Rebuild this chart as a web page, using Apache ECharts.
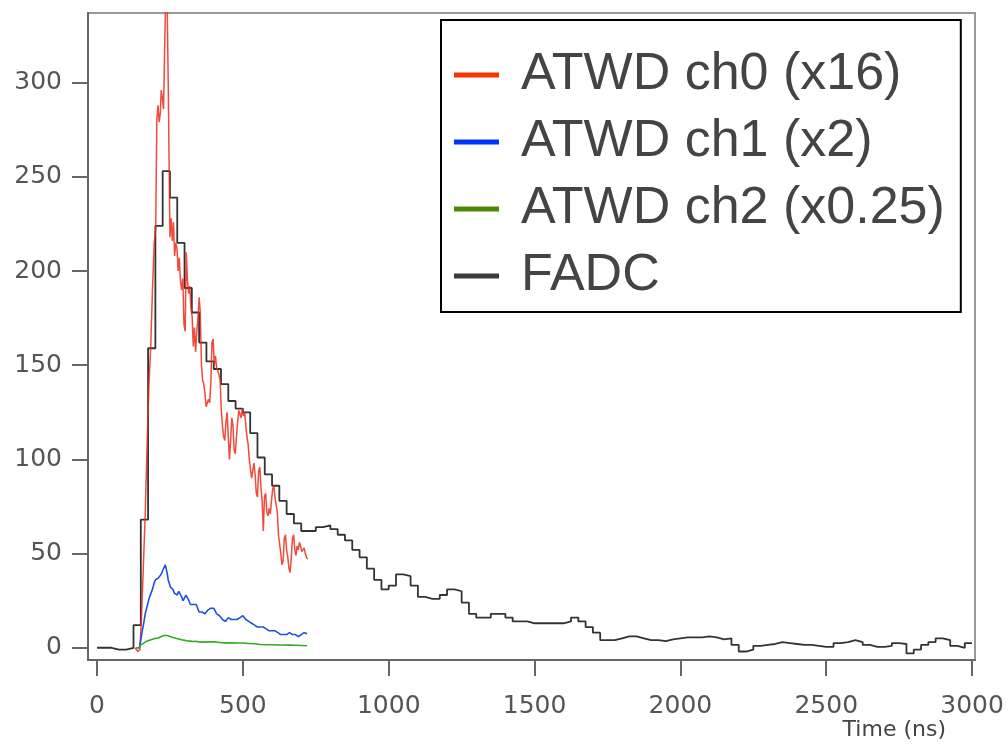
<!DOCTYPE html>
<html>
<head>
<meta charset="utf-8">
<script src="https://cdn.jsdelivr.net/npm/echarts@6/dist/echarts.min.js"></script>
<style>
  html, body { margin: 0; padding: 0; background: #fff; }
  #main { width: 1008px; height: 747px; }
</style>
</head>
<body>
<div id="main"></div>
<script>
// 坐标轴刻度
var xTicks = [0, 500, 1000, 1500, 2000, 2500, 3000];
var yTicks = [0, 50, 100, 150, 200, 250, 300];

// FADC: 25 ns per sample
var fadcStep = 25;
var fadcValues = [
  0, 0, -1, -1, 0, 12, 68, 159, 224, 253,
  239, 215, 191, 178, 162, 152, 148, 140, 131, 127,
  125, 114, 101, 92, 86, 78, 71, 66, 62, 62,
  64, 65, 63, 60, 57, 52, 48, 42, 36, 31,
  33, 39, 38, 33, 27, 26, 26, 28, 31, 30,
  24, 18, 16, 16, 18, 18, 16, 14, 14, 13,
  13, 13, 13, 13, 14, 16, 14, 11, 8, 4,
  4, 5, 6, 6, 5, 4, 4, 3.5, 4.5, 5,
  5.5, 5.5, 5.5, 6, 5.5, 4.5, 5, 1.5, -2, -1,
  1, 1.5, 2, 3, 2.5, 2, 1.5, 1.5, 1, 0.5,
  0.5, 2.5, 3, 4, 3, 1.5, 0.5, 0.5, 1, 2.5,
  2, -3, -1, 1.5, 3, 5, 4, 1, 0, 2.5, 2.5
];

// ATWD ch0 (x16)
var ch0Time = [130, 140, 147, 152, 158, 165, 172, 178, 184, 190, 196, 201, 205, 209, 213, 217, 220, 224, 228, 232,
  236, 240, 244, 247, 250, 254, 258, 262, 266, 270, 274, 278, 282, 286, 290, 294, 298, 302, 306, 310,
  314, 318, 322, 326, 330, 334, 338, 342, 346, 350, 354, 358, 362, 366, 370, 374, 378, 382, 386, 390,
  394, 398, 402, 406, 410, 414, 418, 422, 426, 430, 434, 438, 442, 446, 450, 454, 458, 462, 466, 470,
  474, 478, 482, 486, 490, 494, 498, 502, 506, 510, 514, 518, 522, 526, 530, 534, 538, 542, 546, 550,
  554, 558, 562, 566, 570, 574, 578, 582, 586, 590, 594, 598, 602, 606, 610, 614, 618, 622, 626, 630,
  634, 638, 642, 646, 650, 654, 658, 662, 666, 670, 674, 678, 682, 686, 690, 694, 698, 702, 706, 710,
  714, 718, 722];
var ch0Values = [0, -2, -1, 15, 40, 70, 110, 140, 160, 190, 215, 222, 280, 288, 279, 284, 296, 292, 286, 320,
  350, 348, 300, 258, 218, 228, 216, 226, 208, 215, 212, 200, 207, 195, 190, 196, 172, 168, 210, 195,
  188, 192, 180, 176, 160, 170, 157, 168, 175, 186, 178, 150, 142, 140, 135, 128, 127, 132, 130, 140,
  162, 164, 150, 155, 149, 148, 145, 142, 126, 118, 112, 110, 120, 125, 112, 100, 110, 122, 118, 105,
  103, 112, 120, 126, 124, 122, 127, 123, 125, 118, 112, 108, 100, 95, 90, 89, 98, 92, 82, 80,
  94, 96, 85, 78, 62, 80, 82, 72, 70, 74, 71, 78, 84, 86, 80, 76, 72, 60, 55, 50,
  44, 46, 58, 60, 52, 48, 42, 40, 48, 58, 60, 52, 49, 54, 52, 56, 54, 51, 50, 53,
  50, 48, 47];

// ATWD ch1 (x2)
var ch1Time = [135, 140, 145, 150, 155, 160, 165, 170, 175, 180, 185, 190, 195, 200, 205, 210, 215, 220, 225, 230,
  234, 237, 240, 244, 248, 252, 256, 260, 265, 270, 275, 280, 285, 290, 295, 300, 305, 310, 315, 320,
  325, 330, 335, 340, 345, 350, 355, 360, 365, 370, 375, 380, 385, 390, 395, 400, 405, 410, 415, 420,
  425, 430, 435, 440, 445, 450, 455, 460, 465, 470, 475, 480, 485, 490, 495, 500, 505, 510, 515, 520,
  525, 530, 535, 540, 545, 550, 555, 560, 565, 570, 575, 580, 585, 590, 595, 600, 605, 610, 615, 620,
  625, 630, 635, 640, 645, 650, 655, 660, 665, 670, 675, 680, 685, 690, 695, 700, 705, 710, 715, 720];
var ch1Values = [0, -1, 0, 4, 9, 13, 18, 21, 24, 27, 28, 31, 34, 36, 35, 37, 37, 39, 41, 40,
  44, 45, 40, 36, 34, 32, 33, 31, 29, 30, 28, 30, 30, 27, 25, 26, 28, 27, 25, 23,
  24, 23, 24, 23, 21, 19, 18, 19, 18, 18, 19, 20, 20, 21, 22, 21, 20, 18, 18, 17,
  16, 15, 14, 14, 15, 16, 16, 15, 15, 15, 14, 15, 15, 16, 17, 17, 16, 15, 15, 14,
  14, 13, 12, 12, 11, 11, 10, 11, 11, 11, 10, 10, 9, 9, 10, 9, 8, 9, 9, 8,
  8, 7, 7, 7, 6, 7, 8, 8, 7, 7, 8, 7, 7, 6, 7, 7, 7, 8, 7, 7.5];

// ATWD ch2 (x0.25)
var ch2Time = [135, 140, 145, 150, 160, 170, 180, 190, 200, 210, 220, 230, 235, 240, 250, 260, 270, 280, 290, 300,
  310, 320, 330, 340, 350, 360, 380, 400, 420, 440, 460, 480, 500, 520, 540, 560, 580, 600, 620, 640,
  660, 680, 700, 720];
var ch2Values = [0, -1, 0, 1.5, 2.5, 3.5, 4, 4.5, 5, 5.2, 6, 6.5, 7, 6.5, 6, 5.5, 5, 4.6, 4.2, 4,
  3.6, 3.5, 3.3, 3.4, 3.1, 3, 3.2, 3.1, 2.8, 2.6, 2.6, 2.5, 2.5, 2.3, 2.1, 1.7, 1.6, 1.6, 1.5, 1.5,
  1.4, 1.3, 1.2, 1.1];

function pairs(ts, vs) {
  var out = [];
  for (var i = 0; i < ts.length; i++) out.push([ts[i], vs[i]]);
  return out;
}
var fadcData = fadcValues.map(function (v, i) { return [i * fadcStep, v]; });

var chart = echarts.init(document.getElementById('main'));
var axisColor = '#666';
var option = {
  animation: false,
  backgroundColor: '#fff',
  title: {
    text: 'Time (ns)',
    right: 62,
    top: 719,
    padding: 0,
    textStyle: { fontSize: 22, fontWeight: 'normal', color: '#444', fontFamily: 'DejaVu Sans' }
  },
  grid: {
    left: 88, right: 33, top: 13, bottom: 87,
    show: true, borderColor: '#999', borderWidth: 2
  },
  legend: {
    left: 441, top: 20,
    orient: 'vertical',
    data: ['ATWD ch0 (x16)', 'ATWD ch1 (x2)', 'ATWD ch2 (x0.25)', 'FADC'],
    icon: 'rect',
    itemWidth: 45,
    itemHeight: 5,
    itemGap: 15,
    padding: [29, 16, 10, 13],
    backgroundColor: '#fff',
    borderColor: '#000',
    borderWidth: 2,
    borderRadius: 0,
    textStyle: {
      fontSize: 52, lineHeight: 52, color: '#444',
      fontFamily: 'Liberation Sans', padding: [0, 0, 0, 17]
    }
  },
  xAxis: {
    type: 'value',
    min: -31, max: 3010,
    splitLine: { show: false },
    axisLine: { onZero: false, lineStyle: { color: axisColor, width: 2 } },
    axisTick: { customValues: xTicks, length: 16, lineStyle: { color: axisColor, width: 2 } },
    axisLabel: {
      customValues: xTicks, margin: 34, fontSize: 25, color: '#555', fontFamily: 'DejaVu Sans',
      formatter: function (v) { return String(v); }
    }
  },
  yAxis: {
    type: 'value',
    min: -6.5, max: 337,
    splitLine: { show: false },
    axisLine: { show: true, onZero: false, lineStyle: { color: axisColor, width: 2 } },
    axisTick: { show: true, customValues: yTicks, length: 16, lineStyle: { color: axisColor, width: 2 } },
    axisLabel: {
      customValues: yTicks, margin: 26, fontSize: 25, color: '#555', fontFamily: 'DejaVu Sans',
      formatter: function (v) { return String(v); }
    }
  },
  series: [
    {
      name: 'FADC', type: 'line', step: 'end', showSymbol: false, symbol: 'none',
      color: '#3a3a3a', lineStyle: { color: '#333', width: 1.8 },
      data: fadcData, z: 2
    },
    {
      name: 'ATWD ch0 (x16)', type: 'line', showSymbol: false, symbol: 'none',
      color: '#ff3300', lineStyle: { color: '#ee2a1a', width: 1.5, opacity: 0.85 },
      data: pairs(ch0Time, ch0Values), z: 3
    },
    {
      name: 'ATWD ch1 (x2)', type: 'line', showSymbol: false, symbol: 'none',
      color: '#0033ff', lineStyle: { color: '#2050e0', width: 1.6 },
      data: pairs(ch1Time, ch1Values), z: 3
    },
    {
      name: 'ATWD ch2 (x0.25)', type: 'line', showSymbol: false, symbol: 'none',
      color: '#4b8a00', lineStyle: { color: '#33aa22', width: 1.6 },
      data: pairs(ch2Time, ch2Values), z: 3
    }
  ]
};
chart.setOption(option);
</script>
</body>
</html>
